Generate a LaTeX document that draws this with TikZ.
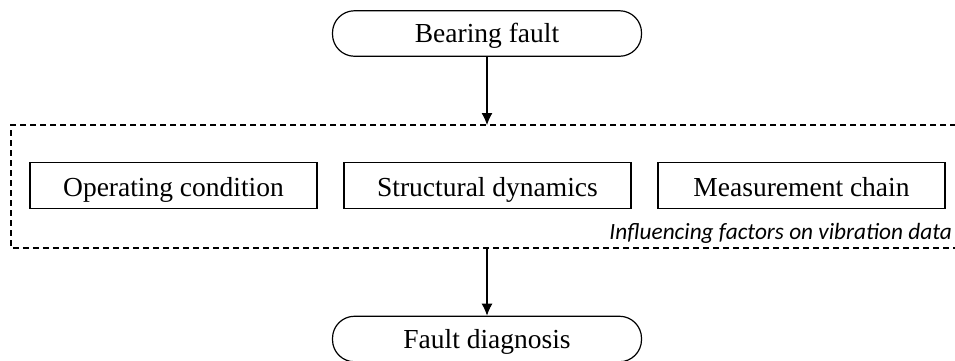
\documentclass[tikz,border=0pt]{standalone}
\usepackage{fontspec}
\setmainfont{Liberation Serif}
\newfontfamily\labelfont{Carlito}
\usetikzlibrary{arrows.meta}
\begin{document}
\begin{tikzpicture}[x=1pt,y=-1pt,
  base/.style={font=\fontsize{27.5}{30}\selectfont, line width=1.2pt, inner sep=0pt, align=center},
  terminal/.style={base, draw, rounded corners=22pt, minimum width=309pt, minimum height=45.5pt,
    text height=22pt, text depth=4pt},
  factor/.style={base, draw, minimum width=287pt, minimum height=46pt,
    text height=25pt, text depth=3pt},
  group/.style={draw, line width=1.2pt, dash pattern=on 6pt off 4pt},
  flow/.style={line width=1.1pt, -{Latex[length=12pt,width=11pt]}}
]
\useasboundingbox (0,0) rectangle (955,360);

% start and end of the chain
\node[terminal] (fault) at (487,33.5) {Bearing fault};
\node[terminal] (diag) at (487,339) {Fault diagnosis};

% influencing factors group (open to the right edge)
\draw[group] (966,125) -- (11,125) -- (11,248) -- (966,248);
\coordinate (gtop) at (487,125);
\coordinate (gbot) at (487,248);

\node[factor] (op) at (173.5,185.5) {Operating condition};
\node[factor] (sd) at (487.5,185.5) {Structural dynamics};
\node[factor] (mc) at (801.5,185.5) {Measurement chain};

\node[anchor=base east, inner sep=0pt, font=\labelfont\itshape\fontsize{23.3}{25}\selectfont] (lbl) at (952,239.5) {Influencing factors on vibration data};

% connectors
\draw[flow] (fault.south) -- (gtop);
\draw[flow] (gbot) -- (diag.north);
\end{tikzpicture}
\end{document}
